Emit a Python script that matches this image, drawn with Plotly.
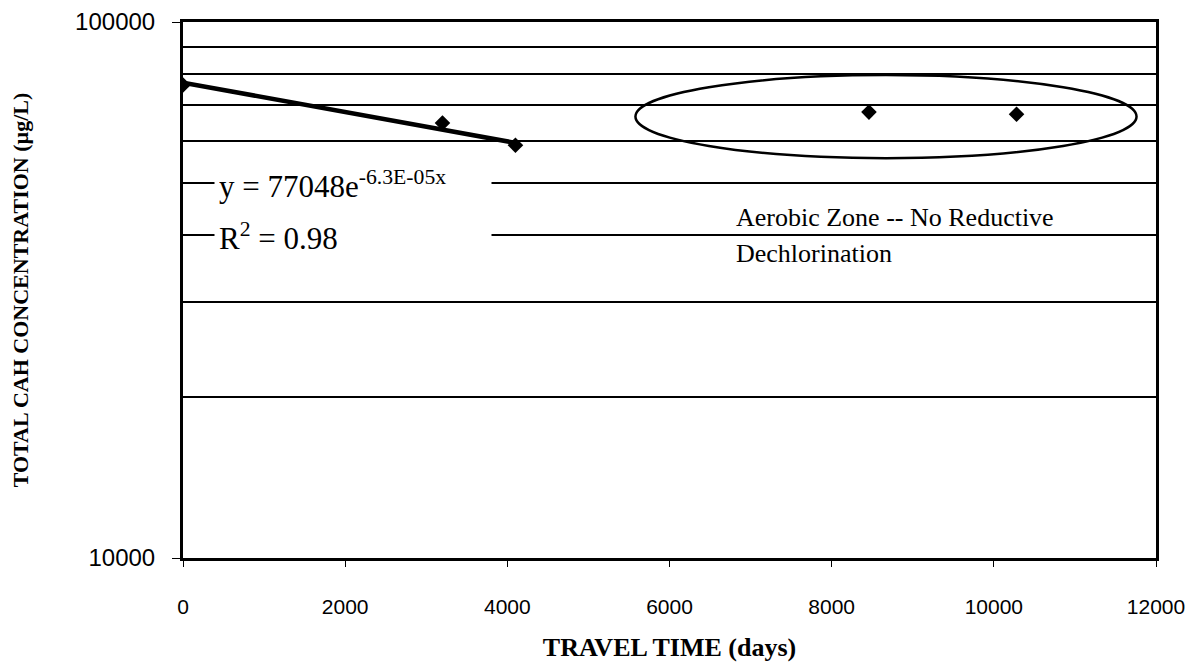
import plotly.graph_objects as go

# Data
travel_time = [0, 3200, 4100, 8460, 10280]
cah_conc = [76300, 64800, 58900, 67900, 67300]

trend_x = [0, 4100]
trend_y = [77048, 59500]

y_major_ticks = [10000, 100000]
y_grid_vals = [20000, 30000, 40000, 50000, 60000, 70000, 80000, 90000]
x_ticks = [0, 2000, 4000, 6000, 8000, 10000, 12000]

serif = "Liberation Serif, Times New Roman, serif"
sans = "Liberation Sans, Arial, sans-serif"

fig = go.Figure()

fig.add_trace(go.Scatter(
    x=trend_x, y=trend_y, mode="lines",
    line=dict(color="black", width=4.5), showlegend=False, hoverinfo="skip"))

fig.add_trace(go.Scatter(
    x=travel_time, y=cah_conc, mode="markers",
    marker=dict(symbol="diamond", size=12, color="black"),
    showlegend=False))

# page body has an 8px margin, so the figure is sized to fit the window
fig.update_layout(
    width=1192, height=660,
    margin=dict(l=175, r=44, t=14, b=110),
    paper_bgcolor="white", plot_bgcolor="white",
    showlegend=False,
)

fig.update_xaxes(
    range=[0, 12000], tickvals=x_ticks, ticktext=[str(v) for v in x_ticks],
    showgrid=False, zeroline=False,
    showline=True, linecolor="black", linewidth=3, mirror=True,
    ticks="outside", ticklen=6, tickcolor="black", tickwidth=1,
    ticklabelstandoff=22,
    tickfont=dict(family=sans, size=21, color="black"),
    title=dict(text="<b>TRAVEL TIME (days)</b>", standoff=21,
               font=dict(family=serif, size=26, color="black")),
    automargin=False,
)

fig.update_yaxes(
    type="log", range=[4, 5],
    tickvals=y_major_ticks, ticktext=["10000", "100000"],
    showgrid=True, gridcolor="black", gridwidth=1.5,
    zeroline=False,
    showline=True, linecolor="black", linewidth=3, mirror=True,
    ticks="outside", ticklen=8, tickcolor="black", tickwidth=1,
    ticklabelstandoff=12,
    tickfont=dict(family=sans, size=24, color="black"),
    minor=dict(tickvals=y_grid_vals, showgrid=True, gridcolor="black",
               gridwidth=1.5, ticks=""),
    title=dict(text="<b>TOTAL CAH CONCENTRATION (µg/L)</b>", standoff=44,
               font=dict(family=serif, size=22, color="black")),
    automargin=False,
)

# Ellipse around the aerobic-zone points
fig.add_shape(type="circle", xref="x", yref="paper",
              x0=5580, x1=11760, y0=0.746, y1=0.901,
              line=dict(color="black", width=2.5), fillcolor="rgba(0,0,0,0)")

# Trend-line equation
fig.add_annotation(xref="x", yref="paper", x=382, y=0.696,
                   xanchor="left", yanchor="middle", showarrow=False,
                   text="y = 77048e<sup>-6.3E-05x</sup>", align="left",
                   width=268, borderpad=4, bgcolor="white",
                   font=dict(family=serif, size=31, color="black"))
fig.add_annotation(xref="x", yref="paper", x=382, y=0.599,
                   xanchor="left", yanchor="middle", showarrow=False,
                   text="R<sup>2</sup> = 0.98", align="left",
                   width=268, borderpad=4, bgcolor="white",
                   font=dict(family=serif, size=31, color="black"))

fig.add_annotation(xref="x", yref="paper", x=6800, y=0.635,
                   xanchor="left", yanchor="middle", showarrow=False,
                   text="Aerobic Zone -- No Reductive", align="left",
                   font=dict(family=serif, size=26, color="black"))
fig.add_annotation(xref="x", yref="paper", x=6800, y=0.568,
                   xanchor="left", yanchor="middle", showarrow=False,
                   text="Dechlorination", align="left",
                   font=dict(family=serif, size=26, color="black"))

fig.write_html("out.html")
